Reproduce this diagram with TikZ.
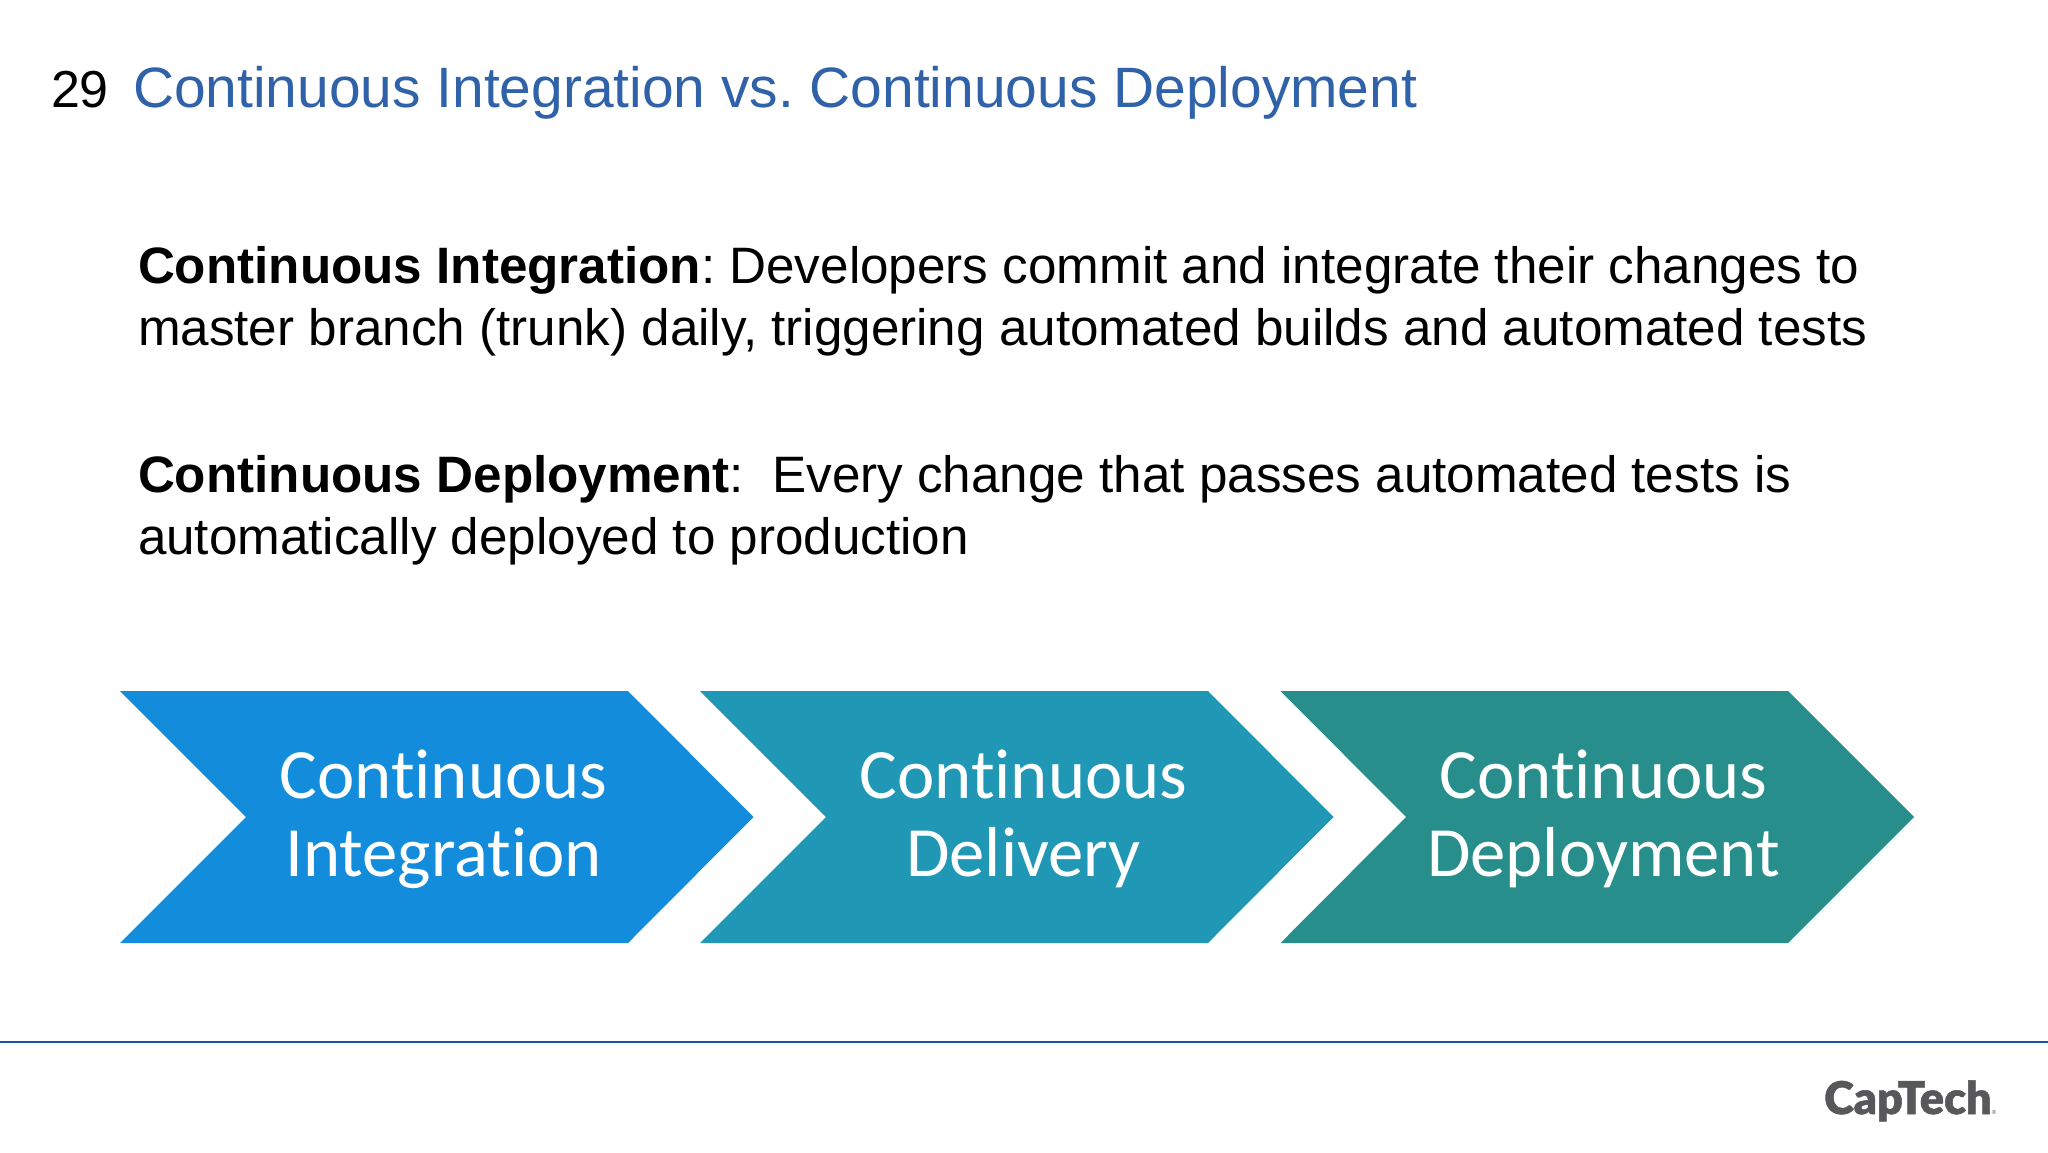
\documentclass[tikz,border=0pt]{standalone}
\usepackage{fontspec}
\setmainfont{Liberation Sans}
\newfontfamily\chevfont[Ligatures=NoCommon]{Carlito}
\newfontfamily\logofont[FakeBold=1.2]{Lato Black}
\definecolor{titleblue}{HTML}{2F62A9}
\definecolor{chevA}{HTML}{138CDB}
\definecolor{chevB}{HTML}{2098B5}
\definecolor{chevC}{HTML}{288E8B}
\definecolor{rulecol}{HTML}{15579F}
\definecolor{logogray}{HTML}{58585A}
\tikzset{
  txt/.style={anchor=base west,inner sep=0pt,outer sep=0pt,font=\fontsize{51.2}{62}\selectfont\frenchspacing,text=black},
  ttl/.style={anchor=base west,inner sep=0pt,outer sep=0pt,font=\fontsize{56.9}{70}\selectfont\frenchspacing},
  chevtxt/.style={anchor=base,inner sep=0pt,outer sep=0pt,text=white,font=\chevfont\fontsize{70.7}{78}\selectfont}
}
\begin{document}
\begin{tikzpicture}[x=1pt,y=-1pt]
\useasboundingbox (0,0) rectangle (2048,1152);
\fill[white] (0,0) rectangle (2048,1152);
\node[ttl,text=black,font=\fontsize{52}{70}\selectfont] (num) at (51,107) {29};
\node[ttl,text=titleblue] (title) at (133,107) {Continuous Integration vs. Continuous Deployment};
\node[txt] (l1) at (138,283) {\textbf{Continuous Integration}: Developers commit and integrate their changes to};
\node[txt] (l2) at (138,345) {master branch (trunk) daily, triggering automated builds and automated tests};
\node[txt] (l3) at (138,492) {\textbf{Continuous Deployment}:\ \ Every change that passes automated tests is};
\node[txt] (l4) at (138,554) {automatically deployed to production};
\fill[chevA] (120,691) -- (628,691) -- (753.5,817) -- (628,943) -- (120,943) -- (246,817) -- cycle;
\fill[chevB] (700,691) -- (1208,691) -- (1333.5,817) -- (1208,943) -- (700,943) -- (826,817) -- cycle;
\fill[chevC] (1280.5,691) -- (1788,691) -- (1914,817) -- (1788,943) -- (1280.5,943) -- (1406,817) -- cycle;
\node[chevtxt] (a1) at (443.5,798) {Continuous};
\node[chevtxt] (a2) at (443.5,876) {Integration};
\node[chevtxt] (b1) at (1023.5,798) {Continuous};
\node[chevtxt] (b2) at (1023.5,876) {Delivery};
\node[chevtxt] (c1) at (1603.5,798) {Continuous};
\node[chevtxt] (c2) at (1603.5,876) {Deployment};
\draw[rulecol,line width=2.8pt] (0,1042) -- (2048,1042);
\node[anchor=base west,inner sep=0pt,text=logogray,font=\logofont\fontsize{45}{44}\selectfont] (logo) at (1824,1114) {CapTech};
\node[anchor=base west,inner sep=0pt,text=logogray,font=\fontsize{6}{6}\selectfont] (logomark) at (logo.base east) {®};
\end{tikzpicture}
\end{document}
